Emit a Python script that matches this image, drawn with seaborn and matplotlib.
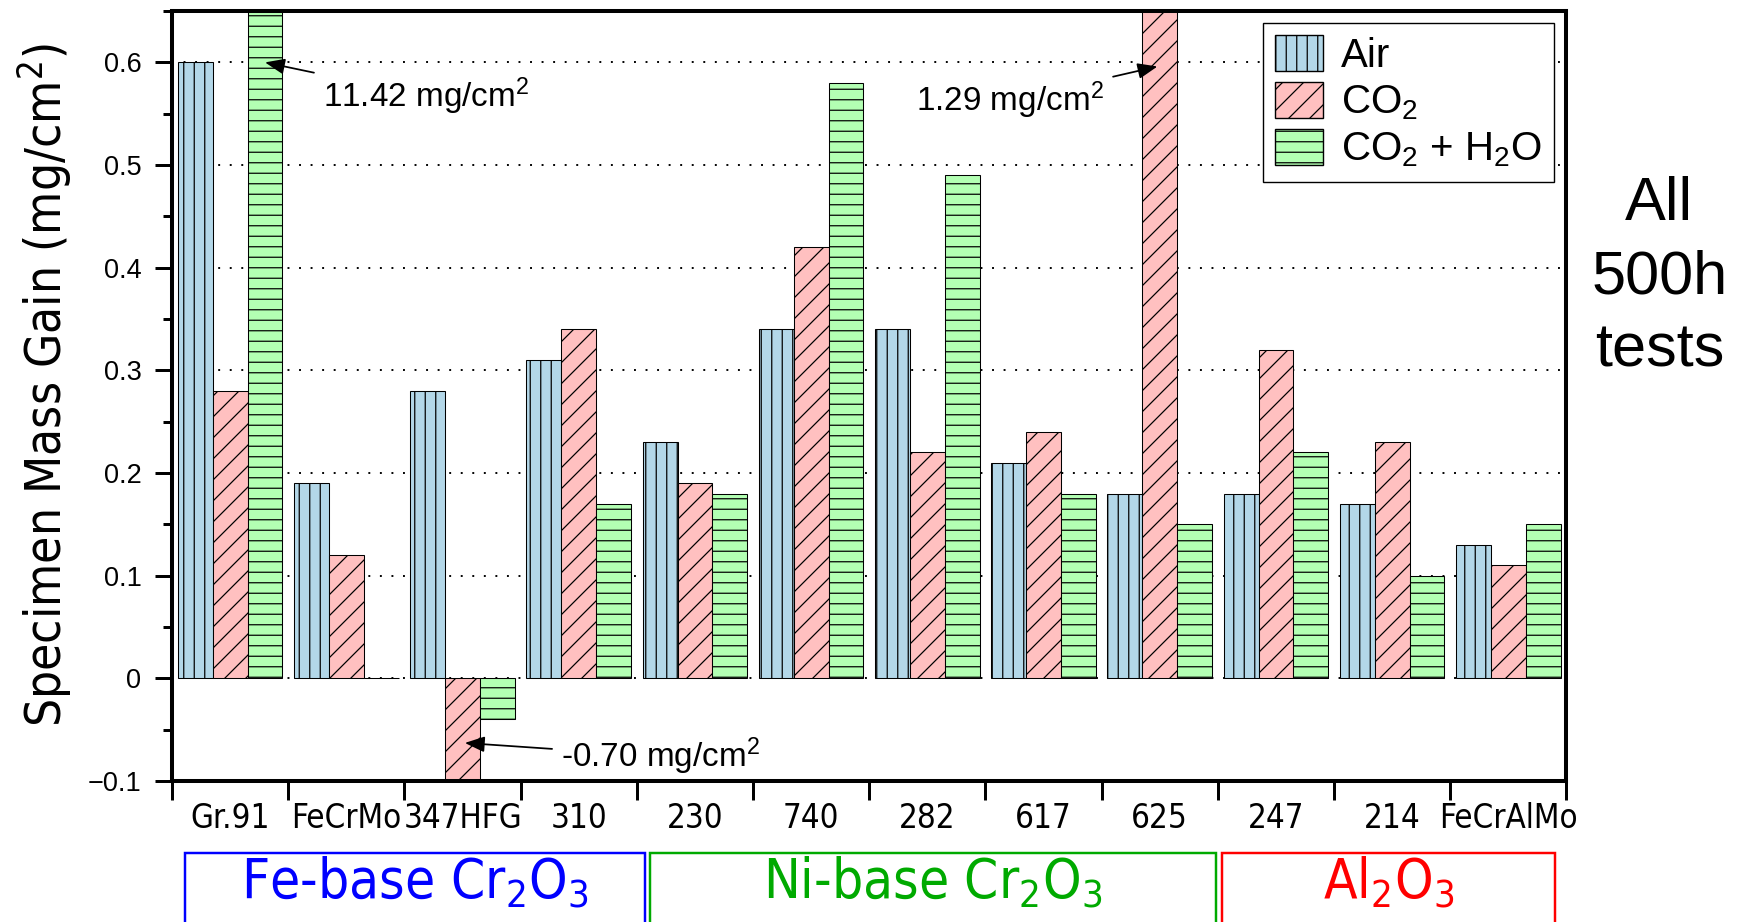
import matplotlib
matplotlib.use("Agg")
import matplotlib.pyplot as plt
from matplotlib import font_manager
from matplotlib.font_manager import FontProperties
from matplotlib.patches import Patch, Rectangle
from matplotlib.ticker import FixedLocator, MultipleLocator, FuncFormatter, NullFormatter
from matplotlib.transforms import blended_transform_factory
import numpy as np
import pandas as pd
import seaborn as sns

# ---- data -------------------------------------------------------------
alloys = ["Gr.91", "FeCrMo", "347HFG", "310", "230", "740",
          "282", "617", "625", "247", "214", "FeCrAlMo"]
atmospheres = ["Air", "CO$_2$", "CO$_2$ + H$_2$O"]
gain_air = [0.60, 0.19, 0.28, 0.31, 0.23, 0.34, 0.34, 0.21, 0.18, 0.18, 0.17, 0.13]
gain_co2 = [0.28, 0.12, -0.70, 0.34, 0.19, 0.42, 0.22, 0.24, 1.29, 0.32, 0.23, 0.11]
gain_h2o = [11.42, 0.00, -0.04, 0.17, 0.18, 0.58, 0.49, 0.18, 0.15, 0.22, 0.10, 0.15]

families = ["Fe-base Cr$_2$O$_3$", "Ni-base Cr$_2$O$_3$", "Al$_2$O$_3$"]
family_colors = ["#0000ff", "#00aa00", "#ff0000"]

bar_colors = ["#b3d7e8", "#ffc0c0", "#b3ffb3"]
bar_hatches = ["||", "//", "--"]

# ---- style ------------------------------------------------------------
sns.set_style("ticks")
installed = {f.name for f in font_manager.fontManager.ttflist}
REG = "Liberation Sans" if "Liberation Sans" in installed else "DejaVu Sans"


def find_narrow():
    """Pick a condensed sans-serif face if one is installed."""
    best = None
    for f in font_manager.fontManager.ttflist:
        st = f.stretch
        if isinstance(st, str):
            st = {"ultra-condensed": 100, "extra-condensed": 200, "condensed": 300,
                  "semi-condensed": 400}.get(st, 500)
        narrowish = st < 500 or "Narrow" in f.name or "Condensed" in f.name
        if not narrowish or f.weight not in (400, "normal", "regular", "book"):
            continue
        if f.style != "normal" or "Mono" in f.name or "Serif" in f.name:
            continue
        score = 0 if ("Liberation" in f.name or "Arial" in f.name) else 1
        if best is None or score < best[0]:
            best = (score, f.fname)
    return FontProperties(fname=best[1]) if best else FontProperties(family=REG)


narrow_fp = find_narrow()

plt.rcParams["font.family"] = [REG, "DejaVu Sans"]
plt.rcParams["mathtext.default"] = "regular"
plt.rcParams["hatch.linewidth"] = 0.7
plt.rcParams["hatch.color"] = "black"
for key in ["text.color", "axes.labelcolor", "xtick.color", "ytick.color",
            "axes.edgecolor"]:
    plt.rcParams[key] = "black"

DPI = 126
fig = plt.figure(figsize=(1743 / DPI, 922 / DPI), dpi=DPI)
ax = fig.add_axes([0.0987, 0.153, 0.8, 0.835])

df = pd.DataFrame({
    "alloy": alloys * 3,
    "atm": [atmospheres[0]] * len(alloys) + [atmospheres[1]] * len(alloys)
           + [atmospheres[2]] * len(alloys),
    "gain": gain_air + gain_co2 + gain_h2o,
})

sns.barplot(data=df, x="alloy", y="gain", hue="atm", order=alloys,
            hue_order=atmospheres, palette=bar_colors, width=0.9,
            edgecolor="black", linewidth=0.6, legend=False, ax=ax,
            errorbar=None, saturation=1)

for cont, hatch in zip(ax.containers, bar_hatches):
    for bar in cont:
        bar.set_hatch(hatch)

# ---- axes -------------------------------------------------------------
ax.set_xlim(-0.5, len(alloys) - 0.5)
ax.set_ylim(-0.1, 0.65)
ax.set_axisbelow(True)

ax.yaxis.set_major_locator(FixedLocator(np.round(np.arange(-0.1, 0.61, 0.1), 2)))
ax.yaxis.set_minor_locator(MultipleLocator(0.05))
ax.yaxis.set_major_formatter(
    FuncFormatter(lambda v, p: ("%g" % round(v, 2)).replace("-", "\u2212")))
ax.grid(axis="y", which="major", color="black", linestyle=(0, (1, 5)), linewidth=1.1)
for gl, loc in zip(ax.yaxis.get_gridlines(), ax.yaxis.get_majorticklocs()):
    if loc < -0.05:
        gl.set_visible(False)

ax.xaxis.set_major_locator(FixedLocator(np.arange(-0.5, len(alloys), 1.0)))
ax.xaxis.set_major_formatter(NullFormatter())
ax.set_xticks(np.arange(len(alloys)), labels=alloys, minor=True)
ax.tick_params(axis="x", which="major", length=11, width=1.7, direction="out")
ax.tick_params(axis="x", which="minor", length=0, pad=12)
ax.tick_params(axis="y", which="major", length=9.5, width=1.7, direction="out",
               labelsize=15.5, pad=8)
ax.tick_params(axis="y", which="minor", length=5, width=1.7, direction="out")
ax.set_xlabel("")
ylab = ax.set_ylabel("Specimen Mass Gain (mg/cm$^2$)", fontproperties=narrow_fp)
ax.yaxis.set_label_coords(-0.07, 0.515)

for s in ax.spines.values():
    s.set_linewidth(2.3)
    s.set_color("black")

# ---- legend -----------------------------------------------------------
handles = [Patch(facecolor=c, edgecolor="black", hatch=h, linewidth=0.8, label=l)
           for c, h, l in zip(bar_colors, bar_hatches, atmospheres)]
leg = ax.legend(handles=handles, loc="upper right", fontsize=23, frameon=True,
                fancybox=False, edgecolor="black", framealpha=1,
                handlelength=1.2, handleheight=1.0, handletextpad=0.45,
                labelspacing=0.17, borderaxespad=0.3, borderpad=0.3)
leg.get_frame().set_linewidth(0.8)

# ---- annotations for bars beyond the axis range ------------------------
arrow = dict(arrowstyle="-|>,head_length=0.5,head_width=0.2", color="black",
             lw=1.0, shrinkA=3, shrinkB=0)
ax.annotate(f"{gain_h2o[0]:.2f} mg/cm$^2$", xy=(0 + 0.3, 0.60), xytext=(0.80, 0.567),
            fontsize=19, ha="left", va="center", arrowprops=arrow)
ax.annotate(f"{gain_co2[8]:.2f} mg/cm$^2$", xy=(8 - 0.02, 0.596), xytext=(7.52, 0.563),
            fontsize=19, ha="right", va="center", arrowprops=arrow)
ax.annotate(f"{gain_co2[2]:.2f} mg/cm$^2$", xy=(2.02, -0.063), xytext=(2.85, -0.076),
            fontsize=19, ha="left", va="center", arrowprops=arrow)

# ---- alloy family boxes ----------------------------------------------
trans = blended_transform_factory(ax.transData, fig.transFigure)
family_spans = [(-0.385, 3.57), (3.61, 8.485), (8.54, 11.4)]
box_texts = []
for (x0, x1), name, col in zip(family_spans, families, family_colors):
    fig.add_artist(Rectangle((x0, -0.1), x1 - x0, 0.175, transform=trans,
                             facecolor="none", edgecolor=col, linewidth=1.4,
                             clip_on=False))
    box_texts.append(fig.text((x0 + x1) / 2, 0.043, name, transform=trans, color=col,
                              ha="center", va="center", fontproperties=narrow_fp))

fig.text(0.952, 0.699, "All\n500h\ntests", fontsize=35, ha="center",
         va="center", linespacing=1.37, color="black")


# ---- size the condensed texts to their printed extents -------------------
def fit_size(artists, ref, target_px, dim):
    for a in artists:
        a.set_fontsize(20)
    fig.canvas.draw()
    bb = ref.get_window_extent(fig.canvas.get_renderer())
    cur = bb.width if dim == "w" else bb.height
    size = 20 * target_px / cur
    for a in artists:
        a.set_fontsize(size)


xlabels = ax.get_xticklabels(minor=True)
for lab in xlabels:
    lab.set_fontproperties(narrow_fp)
fit_size(xlabels, xlabels[-1], 139, "w")
fit_size([ylab], ylab, 685, "h")
fit_size(box_texts, box_texts[0], 349, "w")

fig.savefig("out.png", dpi=DPI)
